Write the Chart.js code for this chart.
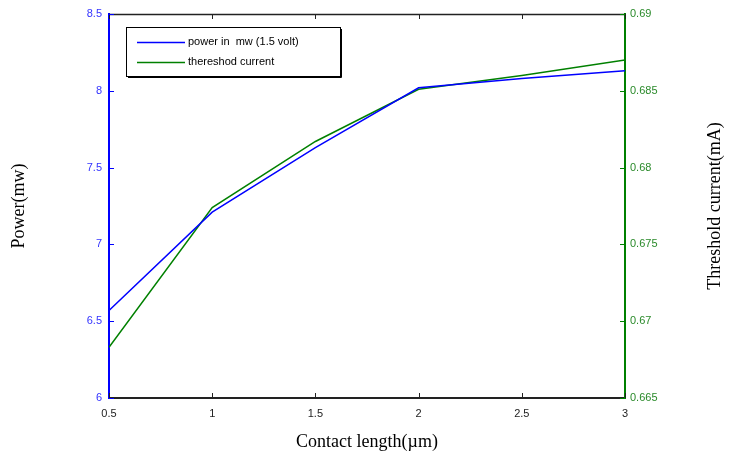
<!DOCTYPE html>
<html><head><meta charset="utf-8">
<script src="https://cdn.jsdelivr.net/npm/chart.js@4/dist/chart.umd.min.js"></script>
<style>html,body{margin:0;padding:0;background:#fff}#wrap{width:732px;height:468px}</style>
</head><body><div id="wrap"><canvas id="c" width="732" height="468"></canvas></div>
<script>
const contactLength = [0.5, 1, 1.5, 2, 2.5, 3];
const powerMw = [6.57, 7.21, 7.63, 8.02, 8.08, 8.13];
const thresholdMa = [0.6683, 0.6774, 0.6817, 0.6851, 0.6860, 0.6870];
const xTicks = [0.5, 1, 1.5, 2, 2.5, 3];
const leftTicks = [6, 6.5, 7, 7.5, 8, 8.5];
const rightTicks = [0.665, 0.67, 0.675, 0.68, 0.685, 0.69];
const legendLabels = ['power in  mw (1.5 volt)', 'thereshod current'];
const xTitle = 'Contact length(\u00b5m)';
const leftTitle = 'Power(mw)';
const rightTitle = 'Threshold current(mA)';

const BLUE = '#0000ff', GREEN = '#008000';

const extras = {
  id: 'extras',
  afterDraw(chart) {
    const ctx = chart.ctx, ca = chart.chartArea;
    const x = chart.scales.x, yl = chart.scales.y, yr = chart.scales.y1;
    ctx.save();
    ctx.lineWidth = 1.5;
    // top border
    ctx.strokeStyle = '#222';
    ctx.beginPath(); ctx.moveTo(ca.left, ca.top + 0.5); ctx.lineTo(ca.right, ca.top + 0.5); ctx.stroke();
    ctx.lineWidth = 1;
    xTicks.forEach(v => {
      const px = Math.round(x.getPixelForValue(v)) + 0.5;
      ctx.beginPath(); ctx.moveTo(px, ca.bottom); ctx.lineTo(px, ca.bottom - 5);
      ctx.moveTo(px, ca.top); ctx.lineTo(px, ca.top + 5); ctx.stroke();
    });
    ctx.strokeStyle = BLUE;
    leftTicks.forEach(v => {
      const py = Math.round(yl.getPixelForValue(v)) + 0.5;
      ctx.beginPath(); ctx.moveTo(ca.left, py); ctx.lineTo(ca.left + 5, py); ctx.stroke();
    });
    ctx.strokeStyle = GREEN;
    rightTicks.forEach(v => {
      const py = Math.round(yr.getPixelForValue(v)) + 0.5;
      ctx.beginPath(); ctx.moveTo(ca.right, py); ctx.lineTo(ca.right - 5, py); ctx.stroke();
    });
    // legend box
    const lx = 126, ly = 27, lw = 214, lh = 49;
    ctx.fillStyle = '#fff';
    ctx.fillRect(lx, ly, lw, lh);
    ctx.strokeStyle = '#000';
    ctx.lineWidth = 1;
    ctx.strokeRect(lx + 0.5, ly + 0.5, lw, lh);
    ctx.beginPath(); ctx.moveTo(lx + lw + 1.5, ly + 2); ctx.lineTo(lx + lw + 1.5, ly + lh + 1.5); ctx.lineTo(lx + 2, ly + lh + 1.5); ctx.stroke();
    const colors = [BLUE, GREEN];
    ctx.font = '11px "Liberation Sans", Arial, sans-serif';
    ctx.textBaseline = 'middle'; ctx.textAlign = 'left';
    legendLabels.forEach((t, i) => {
      const yy = ly + 15 + i * 20;
      ctx.strokeStyle = colors[i];
      ctx.lineWidth = 1.5;
      ctx.beginPath(); ctx.moveTo(lx + 11, yy + 0.5); ctx.lineTo(lx + 59, yy + 0.5); ctx.stroke();
      ctx.fillStyle = '#000';
      ctx.fillText(t, lx + 62, yy);
    });
    // axis titles
    ctx.font = '18px "Liberation Serif", "Times New Roman", serif';
    ctx.fillStyle = '#000';
    ctx.textAlign = 'center'; ctx.textBaseline = 'middle';
    ctx.fillText(xTitle, (ca.left + ca.right) / 2, 442);
    ctx.save(); ctx.translate(19, (ca.top + ca.bottom) / 2); ctx.rotate(-Math.PI / 2);
    ctx.fillText(leftTitle, 0, 0); ctx.restore();
    ctx.save(); ctx.translate(715, (ca.top + ca.bottom) / 2); ctx.rotate(-Math.PI / 2);
    ctx.fillText(rightTitle, 0, 0); ctx.restore();
    ctx.restore();
  }
};

new Chart(document.getElementById('c'), {
  type: 'line',
  data: {
    datasets: [
      { label: legendLabels[0], data: contactLength.map((v, i) => ({ x: v, y: powerMw[i] })), borderColor: BLUE, borderWidth: 1.5, pointRadius: 0, tension: 0, yAxisID: 'y' },
      { label: legendLabels[1], data: contactLength.map((v, i) => ({ x: v, y: thresholdMa[i] })), borderColor: GREEN, borderWidth: 1.5, pointRadius: 0, tension: 0, yAxisID: 'y1' }
    ]
  },
  options: {
    responsive: false, animation: false,
    layout: { padding: { top: 14, left: 0, right: 0, bottom: 0 } },
    plugins: { legend: { display: false }, tooltip: { enabled: false } },
    scales: {
      x: {
        type: 'linear', min: 0.5, max: 3,
        afterFit(s) { s.height = 70; },
        afterBuildTicks(s) { s.ticks = xTicks.map(v => ({ value: v })); },
        grid: { display: false, drawTicks: false },
        border: { display: true, color: '#222', width: 2 },
        ticks: { color: '#222', font: { family: '"Liberation Sans", Arial, sans-serif', size: 11 }, padding: 9, maxRotation: 0, callback: v => String(v) }
      },
      y: {
        position: 'left', min: 6, max: 8.5,
        afterFit(s) { s.width = 109; },
        afterBuildTicks(s) { s.ticks = leftTicks.map(v => ({ value: v })); },
        grid: { display: false, drawTicks: false },
        border: { display: true, color: BLUE, width: 2 },
        ticks: { color: '#3333ff', font: { family: '"Liberation Sans", Arial, sans-serif', size: 11 }, padding: 7, callback: v => String(v) }
      },
      y1: {
        position: 'right', min: 0.665, max: 0.69,
        afterFit(s) { s.width = 107; },
        afterBuildTicks(s) { s.ticks = rightTicks.map(v => ({ value: v })); },
        grid: { display: false, drawTicks: false },
        border: { display: true, color: GREEN, width: 2 },
        ticks: { color: '#2a8a2a', font: { family: '"Liberation Sans", Arial, sans-serif', size: 11 }, padding: 5, callback: v => String(v) }
      }
    }
  },
  plugins: [extras]
});
</script></body></html>
